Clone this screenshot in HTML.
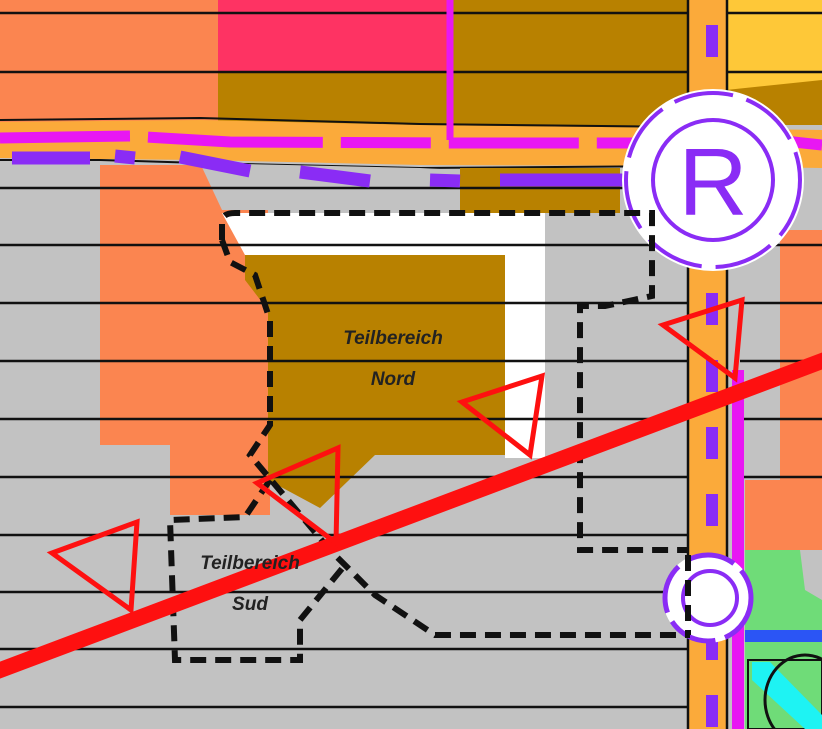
<!DOCTYPE html>
<html><head><meta charset="utf-8"><style>html,body{margin:0;padding:0;background:#c0c0c0}svg{display:block}</style></head>
<body>
<svg width="822" height="729" viewBox="0 0 822 729" xmlns="http://www.w3.org/2000/svg">
<rect width="822" height="729" fill="#c2c2c2"/>
<rect x="0" y="0" width="220" height="130" fill="#fb8550"/>
<rect x="218" y="0" width="230" height="72" fill="#fe3363"/>
<rect x="218" y="72" width="472" height="60" fill="#b88100"/>
<rect x="448" y="0" width="242" height="72" fill="#b88100"/>
<rect x="726" y="0" width="96" height="90" fill="#fec838"/>
<polygon points="726,90 822,80 822,125 726,125" fill="#b88100"/>
<polygon points="0,122 200,120 420,125 690,128 822,130 822,168 690,166 420,165 200,160 0,158" fill="#fbaa3a"/>
<path d="M0,120 L200,118 L420,124 L690,127" stroke="#111" stroke-width="2" fill="none"/>
<path d="M0,160 L100,160 L200,163 L420,168 L690,166" stroke="#111" stroke-width="2" fill="none"/>
<rect x="0" y="165" width="100" height="564" fill="#c2c2c2"/>
<polygon points="100,165 200,165 218,180 218,445 100,445" fill="#fb8550"/>
<polygon points="170,445 270,445 270,515 170,515" fill="#fb8550"/>
<rect x="218" y="180" width="50" height="265" fill="#fb8550"/>
<polygon points="200,163 420,168 460,170 460,210 222,210" fill="#c2c2c2"/>
<rect x="460" y="168" width="160" height="45" fill="#b88100"/>
<rect x="745" y="250" width="77" height="300" fill="#c2c2c2"/>
<rect x="780" y="230" width="42" height="320" fill="#fb8550"/>
<polygon points="745,480 822,480 822,550 745,550" fill="#fb8550"/>
<polygon points="745,550 800,550 805,590 822,600 822,729 745,729" fill="#6fdc78"/>
<polygon points="222,213 545,213 545,458 505,458 505,255 245,255" fill="#fff"/>
<polygon points="245,255 505,255 505,455 375,455 320,508 268,480 268,310 245,280" fill="#b88100"/>
<g stroke="#111" stroke-width="2.5">
<line x1="0" y1="13" x2="690" y2="13"/><line x1="726" y1="13" x2="822" y2="13"/>
<line x1="0" y1="72" x2="690" y2="72"/><line x1="726" y1="72" x2="822" y2="72"/>
<line x1="0" y1="188" x2="690" y2="188"/>
<line x1="0" y1="245" x2="690" y2="245"/><line x1="740" y1="245" x2="822" y2="245"/>
<line x1="0" y1="303" x2="690" y2="303"/><line x1="740" y1="303" x2="822" y2="303"/>
<line x1="0" y1="361" x2="690" y2="361"/><line x1="740" y1="361" x2="822" y2="361"/>
<line x1="0" y1="419" x2="690" y2="419"/><line x1="740" y1="419" x2="822" y2="419"/>
<line x1="0" y1="477" x2="690" y2="477"/><line x1="740" y1="477" x2="822" y2="477"/>
<line x1="0" y1="535" x2="690" y2="535"/>
<line x1="0" y1="592" x2="690" y2="592"/>
<line x1="0" y1="649" x2="690" y2="649"/>
<line x1="0" y1="707" x2="690" y2="707"/>
</g>
<rect x="688" y="0" width="38" height="729" fill="#fbaa3a"/>
<line x1="688" y1="0" x2="688" y2="729" stroke="#111" stroke-width="2.5"/>
<line x1="727" y1="0" x2="727" y2="729" stroke="#111" stroke-width="2.5"/>
<line x1="712" y1="25" x2="712" y2="729" stroke="#8a2cf5" stroke-width="12" stroke-dasharray="32,35"/>
<line x1="738" y1="370" x2="738" y2="729" stroke="#e817f3" stroke-width="12"/>
<rect x="745" y="630" width="77" height="12" fill="#2b55f5"/>
<rect x="748" y="660" width="74" height="69" fill="none" stroke="#111" stroke-width="2"/>
<polygon points="752,662 770,662 822,715 822,729 805,729 752,680" fill="#1ef3f3"/>
<ellipse cx="805" cy="700" rx="40" ry="45" fill="none" stroke="#111" stroke-width="3"/>
<line x1="450" y1="0" x2="450" y2="140" stroke="#e817f3" stroke-width="7"/>
<path d="M0,138 L130,136 L230,142 L460,143 L640,143" stroke="#e817f3" stroke-width="11" fill="none" stroke-dasharray="130,18,175,18,90,18"/>
<path d="M12,158 L90,158 M115,156 L135,158 M180,157 L250,171 M300,172 L370,181 M430,180 L460,181 M500,180 L625,180" stroke="#8a2cf5" stroke-width="13" fill="none"/>
<line x1="775" y1="140" x2="822" y2="145" stroke="#e817f3" stroke-width="11"/>
<circle cx="713" cy="180" r="91" fill="#fff"/>
<circle cx="713" cy="180" r="87" fill="none" stroke="#8a2cf5" stroke-width="4" stroke-dasharray="60,14"/>
<circle cx="713" cy="180" r="60" fill="none" stroke="#8a2cf5" stroke-width="4"/>
<text x="713" y="215" text-anchor="middle" font-family="Liberation Sans, sans-serif" font-size="96" fill="#8a2cf5">R</text>
<circle cx="708" cy="598" r="45" fill="#fff"/>
<circle cx="708" cy="598" r="43" fill="none" stroke="#8a2cf5" stroke-width="5" stroke-dasharray="50,10"/>
<circle cx="710" cy="598" r="27" fill="none" stroke="#8a2cf5" stroke-width="4"/>
<g stroke="#111" stroke-width="6" fill="none" stroke-dasharray="16,9">
<path d="M222,240 L222,222 Q222,213 235,213 L652,213 L652,296 L605,306 L580,306 L580,550 L688,550"/>
<path d="M222,240 L230,262 L255,275 L270,320 L270,425 L250,455 L330,550 L375,595 L435,635 L690,635"/>
<path d="M270,480 L245,517 L170,520 L175,660 L300,660 L300,620 L345,565"/>
<line x1="688" y1="555" x2="688" y2="635"/>
</g>
<line x1="-5" y1="672" x2="830" y2="358" stroke="#fe1010" stroke-width="16"/>
<g stroke="#fe1010" stroke-width="5" fill="none">
<polygon points="52,553 137,522 131,610"/>
<polygon points="257,483 338,448 336,543"/>
<polygon points="462,402 542,376 530,455"/>
<polygon points="663,325 742,300 735,378"/>
</g>
<g font-family="Liberation Sans, sans-serif" font-size="19" font-weight="bold" font-style="italic" fill="#222" text-anchor="middle">
<text x="393" y="344">Teilbereich</text>
<text x="393" y="385">Nord</text>
<text x="250" y="569">Teilbereich</text>
<text x="250" y="610">Sud</text>
</g>
</svg>
</body></html>
